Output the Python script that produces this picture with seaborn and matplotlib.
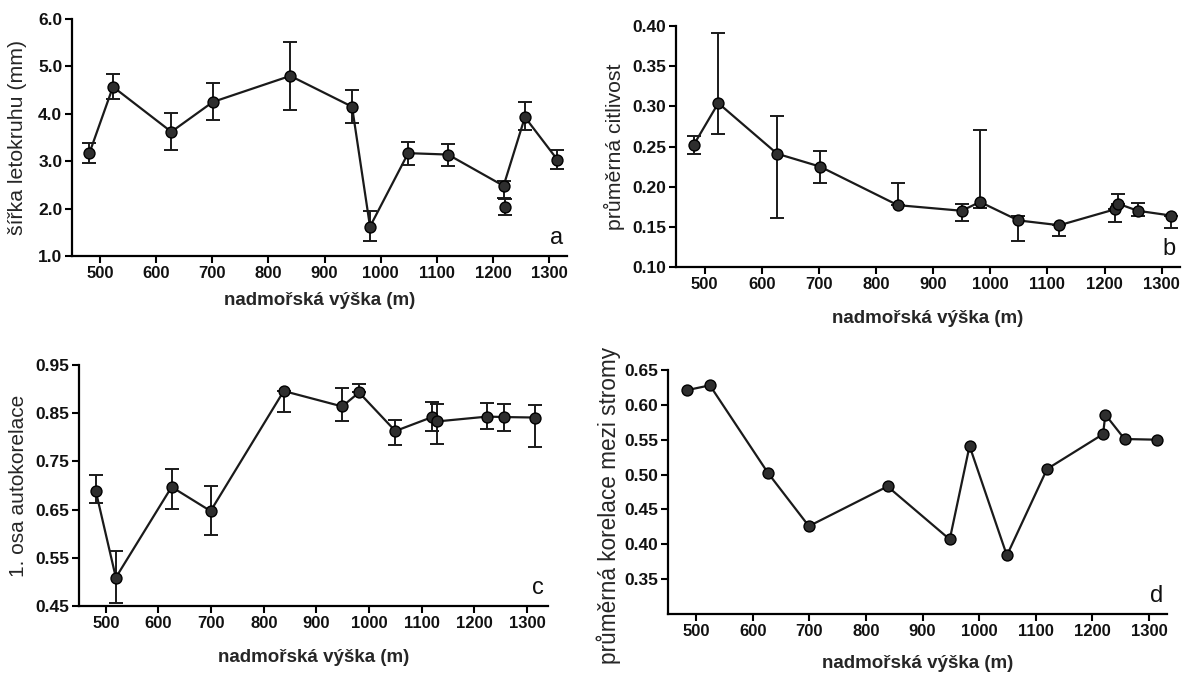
import matplotlib
matplotlib.use("Agg")
import matplotlib.pyplot as plt
import seaborn as sns
import pandas as pd

# ---------------- data ----------------
# panel a: ring width (mm)
alt_a = [481, 523, 627, 701, 839, 949, 981, 1049, 1120, 1219, 1222, 1257, 1315]
val_a = [3.17, 4.57, 3.62, 4.25, 4.80, 4.15, 1.62, 3.17, 3.14, 2.48, 2.03, 3.93, 3.03]
up_a = [3.39, 4.85, 4.01, 4.64, 5.52, 4.51, 1.94, 3.40, 3.37, 2.58, 2.20, 4.25, 3.24]
lo_a = [2.97, 4.31, 3.23, 3.86, 4.09, 3.80, 1.31, 2.92, 2.90, 2.22, 1.86, 3.65, 2.83]
line_a = [True, True, True, True, True, True, True, True, True, True, False, True, True]

# panel b: mean sensitivity
alt_b = [481, 524, 627, 702, 838, 950, 982, 1049, 1121, 1219, 1223, 1258, 1317]
val_b = [0.252, 0.304, 0.241, 0.225, 0.177, 0.170, 0.181, 0.158, 0.152, 0.172, 0.179, 0.170, 0.164]
up_b = [0.263, 0.391, 0.288, 0.244, 0.205, 0.179, 0.271, 0.164, 0.152, 0.172, 0.191, 0.180, 0.164]
lo_b = [0.241, 0.265, 0.161, 0.205, 0.177, 0.157, 0.174, 0.132, 0.138, 0.156, 0.179, 0.164, 0.148]

# panel c: first-order autocorrelation
alt_c = [481, 519, 625, 699, 838, 949, 981, 1050, 1120, 1130, 1225, 1257, 1316]
val_c = [0.688, 0.509, 0.697, 0.647, 0.896, 0.864, 0.893, 0.813, 0.842, 0.833, 0.843, 0.842, 0.841]
up_c = [0.722, 0.565, 0.735, 0.700, 0.896, 0.902, 0.910, 0.835, 0.873, 0.869, 0.871, 0.870, 0.868]
lo_c = [0.663, 0.457, 0.652, 0.598, 0.853, 0.834, 0.893, 0.783, 0.814, 0.786, 0.818, 0.814, 0.779]

# panel d: mean inter-tree correlation
alt_d = [483, 524, 627, 699, 838, 948, 983, 1049, 1120, 1219, 1223, 1257, 1315]
val_d = [0.621, 0.628, 0.502, 0.426, 0.483, 0.407, 0.541, 0.384, 0.508, 0.558, 0.586, 0.551, 0.550]

xticks = [500, 600, 700, 800, 900, 1000, 1100, 1200, 1300]
xlabel = "nadmořská výška (m)"

# ---------------- style ----------------
sns.set_theme(style="ticks")
plt.rcParams["font.family"] = ["Liberation Sans", "DejaVu Sans"]

fig = plt.figure(figsize=(11.82, 6.74), dpi=100)
W, H = 1182, 674


def axes_px(left, right, top, bottom):
    return fig.add_axes([left / W, 1 - bottom / H, (right - left) / W, (bottom - top) / H])


ax_a = axes_px(72, 567, 19, 256)
ax_b = axes_px(676, 1180, 26, 267)
ax_c = axes_px(79, 548, 365, 606)
ax_d = axes_px(668, 1167, 370, 614)

LC = "#1a1a1a"
MC = "#2e2e2e"


def draw(ax, alt, val, up=None, lo=None, mask=None):
    df = pd.DataFrame({"alt": alt, "val": val})
    dline = df if mask is None else df[pd.Series(mask).values]
    sns.lineplot(data=dline, x="alt", y="val", ax=ax, color=LC, lw=1.6,
                 sort=True, estimator=None, zorder=2)
    if up is not None:
        yerr = [[v - l for v, l in zip(val, lo)], [u - v for u, v in zip(up, val)]]
        ax.errorbar(alt, val, yerr=yerr, fmt="none", ecolor=LC, elinewidth=1.4,
                    capsize=5, capthick=1.4, zorder=3)
    sns.scatterplot(data=df, x="alt", y="val", ax=ax, color=MC, edgecolor="black",
                    linewidth=1.0, s=62, zorder=4, legend=False)


draw(ax_a, alt_a, val_a, up_a, lo_a, line_a)
draw(ax_b, alt_b, val_b, up_b, lo_b)
draw(ax_c, alt_c, val_c, up_c, lo_c)
draw(ax_d, alt_d, val_d)

cfg = [
    # ax, xlim, ylim, yticks, fmt, ylabel, ylabel size, ylabel x, ylabel y, letter, xlabel y
    (ax_a, (450, 1332), (1.0, 6.0), [1.0, 2.0, 3.0, 4.0, 5.0, 6.0], "{:.1f}",
     "šířka letokruhu (mm)", 15.3, -0.09, 0.5, "a", -0.15),
    (ax_b, (450, 1332), (0.10, 0.40), [0.10, 0.15, 0.20, 0.25, 0.30, 0.35, 0.40], "{:.2f}",
     "průměrná citlivost", 15.3, -0.101, 0.5, "b", -0.18),
    (ax_c, (449, 1340), (0.45, 0.95), [0.45, 0.55, 0.65, 0.75, 0.85, 0.95], "{:.2f}",
     "1. osa autokorelace", 15.0, -0.109, 0.5, "c", -0.18),
    (ax_d, (450, 1332), (0.30, 0.65), [0.35, 0.40, 0.45, 0.50, 0.55, 0.60, 0.65], "{:.2f}",
     "průměrná korelace mezi stromy", 16.3, -0.094, 0.443, "d", -0.17),
]

for ax, xlim, ylim, yt, fmt, ylab, yls, ylx, yly, letter, xly in cfg:
    ax.set_xlim(*xlim)
    ax.set_ylim(*ylim)
    ax.set_xticks(xticks)
    ax.set_xticklabels([str(t) for t in xticks], fontsize=12, fontweight="bold")
    ax.set_yticks(yt)
    ax.set_yticklabels([fmt.format(t) for t in yt], fontsize=12.5, fontweight="bold")
    ax.set_ylabel(ylab, fontsize=yls)
    ax.set_xlabel(xlabel, fontsize=13.5, fontweight="bold")
    ax.yaxis.set_label_coords(ylx, yly)
    ax.xaxis.set_label_coords(0.5, xly)
    sns.despine(ax=ax)
    for s in ("left", "bottom"):
        ax.spines[s].set_linewidth(1.6)
        ax.spines[s].set_color("black")
    ax.tick_params(axis="both", direction="out", length=5, width=1.5, color="black",
                   labelcolor="#111111", pad=2)
    ax.text(0.992, 0.03, letter, transform=ax.transAxes, ha="right", va="bottom",
            fontsize=17, color="#111111")
    ax.set_facecolor("white")
    ax.grid(False)

fig.savefig("out.png", dpi=100, facecolor="white")
